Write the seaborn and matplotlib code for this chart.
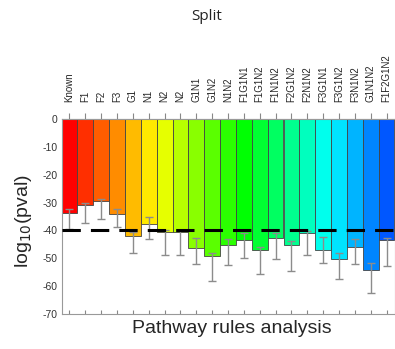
import colorsys

import matplotlib.pyplot as plt
import numpy as np
import pandas as pd
import seaborn as sns

sns.set_style("white")
plt.rcParams["font.family"] = ["Liberation Sans", "DejaVu Sans"]
plt.rcParams["axes.unicode_minus"] = False

# log10(pval) per pathway rule, with the lower/upper ends of the error bars
rules = ["Known", "F1", "F2", "F3", "G1", "N1", "N2", "N2", "G1N1", "G1N2", "N1N2",
         "F1G1N1", "F1G1N2", "F1N1N2", "F2G1N2", "F2N1N2", "F3G1N1", "F3G1N2",
         "F3N1N2", "G1N1N2", "F1F2G1N2"]
log_pval = [-33.6, -30.7, -29.3, -34.2, -42.0, -37.6, -40.6, -40.6, -46.2, -49.2, -45.2,
            -43.6, -47.0, -42.8, -45.2, -41.0, -47.0, -50.4, -45.8, -54.2, -43.4]
err_upper = [-32.2, -30.0, -28.6, -32.2, -40.5, -35.2, -39.8, -39.8, -42.6, -48.0, -43.2,
             -40.8, -45.8, -41.0, -43.7, -40.1, -42.5, -48.0, -43.2, -51.6, -42.8]
err_lower = [-39.6, -37.2, -35.8, -38.9, -48.2, -43.1, -48.7, -48.7, -52.0, -58.1, -52.4,
             -50.0, -55.8, -50.3, -54.6, -48.9, -51.8, -57.5, -52.2, -62.3, -52.8]
threshold = -40

df = pd.DataFrame({"slot": [f"{i:02d}" for i in range(len(rules))],
                   "rule": rules, "log_pval": log_pval})

# rainbow from red to blue
colors = [colorsys.hsv_to_rgb(h, 1.0, 1.0) for h in np.linspace(0, 0.61, len(rules))]
pal = dict(zip(df["slot"], colors))

fig = plt.figure(figsize=(3.95, 3.49), dpi=100)
ax = fig.add_axes([61.5 / 395, 1 - 314 / 349, 333 / 395, 195 / 349])

sns.barplot(data=df, x="slot", y="log_pval", hue="slot", palette=pal, legend=False,
            width=1, saturation=1, errorbar=None, edgecolor="#444444", linewidth=0.6, ax=ax)

vals = np.array(log_pval)
yerr = [vals - np.array(err_lower), np.array(err_upper) - vals]
ax.errorbar(np.arange(len(rules)), vals, yerr=yerr, fmt="none", ecolor="#8c8c8c",
            elinewidth=1, capsize=3, capthick=1, zorder=3)

ax.axhline(threshold, color="black", lw=2.2, dashes=(6, 3.3), zorder=4)

ax.set_xlim(-0.5, len(rules) - 0.5)
ax.set_ylim(-70, 0)
ax.set_yticks(range(-70, 1, 10))
ax.tick_params(axis="y", direction="in", length=3, color="#888888", labelsize=7.5,
               labelcolor="#333333", pad=3)
ax.tick_params(axis="x", bottom=True, direction="in", length=3, color="#888888",
               labelbottom=False)
for s in ax.spines.values():
    s.set_color("#999999")
    s.set_linewidth(0.8)

top = ax.secondary_xaxis("top")
top.set_xticks(range(len(rules)))
top.set_xticklabels(rules, rotation=90, fontsize=7)
top.tick_params(direction="out", length=4, color="#888888", pad=8)
top.spines["top"].set_color("#999999")

ax.set_xlabel("Pathway rules analysis", fontsize=14)
ax.xaxis.set_label_coords(0.51, -0.072)
ax.xaxis.label.set_va("center")
ax.set_ylabel("log$_{10}$(pval)", fontsize=14)
ax.yaxis.set_label_coords(-0.115, 0.475)
ax.yaxis.label.set_va("center")

fig.text(207 / 395, 1 - 17 / 349, "Split", ha="center", va="center", fontsize=11,
         family="Open Sans", color="#222222")

fig.savefig("out.png", dpi=100)
